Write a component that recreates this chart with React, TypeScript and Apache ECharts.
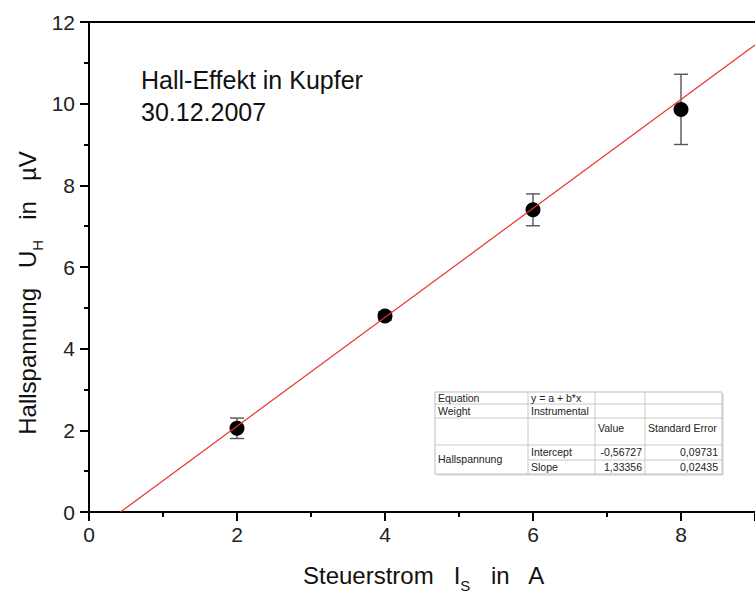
import React, { useEffect, useRef } from "react";
import * as echarts from "echarts";

// Measured data
const currentA = [2, 4, 6, 8];
const hallVoltage = [2.05, 4.8, 7.4, 9.86];
const hallError = [0.25, 0.1, 0.39, 0.86];

// Linear fit (from the fit table): y = a + b*x, drawn between these endpoints
const fitX = [0.4254, 9.0];
const fitY = [0.0, 11.4348];

// Axis ticks
const xTicks = [0, 2, 4, 6, 8];
const yTicks = [0, 2, 4, 6, 8, 10, 12];

// Title
const titleLines = ["Hall-Effekt in Kupfer", "30.12.2007"];

// Fit table contents
const tableRows = [
  ["Equation", "y = a + b*x", "", ""],
  ["Weight", "Instrumental", "", ""],
  ["", "", "Value", "Standard Error"],
  ["Hallspannung", "Intercept", "-0,56727", "0,09731"],
  ["", "Slope", "1,33356", "0,02435"],
];

const FONT = "Liberation Sans, Arial, Helvetica, sans-serif";

export default function App() {
  const ref = useRef<HTMLDivElement>(null);
  useEffect(() => {
    if (!ref.current) return;
    const chart = echarts.init(ref.current, null, { renderer: "svg" });

    const errData = currentA.map((x, i) => [x, hallVoltage[i] - hallError[i], hallVoltage[i] + hallError[i]]);
    const ptData = currentA.map((x, i) => [x, hallVoltage[i]]);
    const fitData = fitX.map((x, i) => [x, fitY[i]]);

    // Table geometry
    const tl = 435, tt = 392, tr = 722, tb = 474;
    const cols = [435, 528, 595, 645, 722];
    const rows = [392, 404, 418, 445, 460, 474];
    const lineStyle = { stroke: "#c8c8c8", lineWidth: 1 };
    const tableEls: any[] = [];
    tableEls.push({ type: "rect", shape: { x: tl + 2, y: tt + 2, width: tr - tl, height: tb - tt }, style: { fill: "#e4e4e4" } });
    tableEls.push({ type: "rect", shape: { x: tl, y: tt, width: tr - tl, height: tb - tt }, style: { fill: "#fff", stroke: "#bdbdbd", lineWidth: 1 } });
    [rows[1], rows[2], rows[3]].forEach((y) =>
      tableEls.push({ type: "line", shape: { x1: tl, y1: y, x2: tr, y2: y }, style: lineStyle })
    );
    tableEls.push({ type: "line", shape: { x1: cols[1], y1: rows[4], x2: tr, y2: rows[4] }, style: lineStyle });
    [cols[1], cols[2], cols[3]].forEach((x) =>
      tableEls.push({ type: "line", shape: { x1: x, y1: tt, x2: x, y2: tb }, style: lineStyle })
    );
    const tStyle = (text: string, x: number, y: number, align: string) => ({
      type: "text",
      x,
      y,
      style: { text, fontSize: 10.5, fontFamily: FONT, fill: "#222", align, verticalAlign: "middle" },
    });
    const rowY = [398, 411, 428, 452, 467];
    tableRows.forEach((r, ri) => {
      r.forEach((cell, ci) => {
        if (!cell) return;
        let y = rowY[ri];
        if (ri === 3 && ci === 0) y = 459;
        if (ci === 2 && ri >= 3) tableEls.push(tStyle(cell, cols[3] - 3, y, "right"));
        else if (ci === 3 && ri >= 3) tableEls.push(tStyle(cell, cols[4] - 4, y, "right"));
        else tableEls.push(tStyle(cell, cols[ci] + 3, y, "left"));
      });
    });

    const richStyles = {
      a: { fontSize: 24, fontFamily: FONT, fill: "#111", verticalAlign: "bottom", padding: [0, 0, 6, 0] },
      s: { fontSize: 15, fontFamily: FONT, fill: "#111", verticalAlign: "bottom" },
    };

    const option: any = {
      animation: false,
      backgroundColor: "#fff",
      textStyle: { fontFamily: FONT },
      grid: { left: 89, top: 22, width: 669, height: 490, show: false },
      xAxis: [
        {
          type: "value",
          min: 0,
          max: 9,
          interval: 2,
          axisLine: { lineStyle: { color: "#000", width: 2 } },
          axisTick: { show: true, length: 9, lineStyle: { color: "#000", width: 2 } },
          minorTick: { show: true, splitNumber: 2, length: 5, lineStyle: { color: "#000", width: 2 } },
          splitLine: { show: false },
          axisLabel: {
            fontSize: 21,
            color: "#222",
            margin: 12,
            showMaxLabel: false,
            formatter: (v: number) => (xTicks.includes(v) ? String(v) : ""),
          },
        },
        {
          type: "value",
          position: "top",
          min: 0,
          max: 9,
          axisLine: { show: true, onZero: false, lineStyle: { color: "#000", width: 2 } },
          axisTick: { show: false },
          axisLabel: { show: false },
          splitLine: { show: false },
        },
      ],
      yAxis: {
        type: "value",
        min: 0,
        max: 12,
        interval: 2,
        axisLine: { show: true, lineStyle: { color: "#000", width: 2 } },
        axisTick: { show: true, length: 9, lineStyle: { color: "#000", width: 2 } },
        minorTick: { show: true, splitNumber: 2, length: 5, lineStyle: { color: "#000", width: 2 } },
        splitLine: { show: false },
        axisLabel: {
          fontSize: 21,
          color: "#222",
          margin: 14,
          formatter: (v: number) => (yTicks.includes(v) ? String(v) : ""),
        },
      },
      series: [
        {
          type: "custom",
          name: "Fehler",
          data: errData,
          z: 2,
          renderItem: (params: any, api: any) => {
            const x = api.value(0);
            const lo = api.coord([x, api.value(1)]);
            const hi = api.coord([x, api.value(2)]);
            const w = 7;
            const st = { stroke: "#555", lineWidth: 1.4 };
            return {
              type: "group",
              children: [
                { type: "line", shape: { x1: lo[0], y1: lo[1], x2: hi[0], y2: hi[1] }, style: st },
                { type: "line", shape: { x1: lo[0] - w, y1: lo[1], x2: lo[0] + w, y2: lo[1] }, style: st },
                { type: "line", shape: { x1: hi[0] - w, y1: hi[1], x2: hi[0] + w, y2: hi[1] }, style: st },
              ],
            };
          },
        },
        {
          type: "scatter",
          name: "Hallspannung",
          data: ptData,
          symbol: "circle",
          symbolSize: 15,
          itemStyle: { color: "#000", opacity: 1 },
          z: 3,
        },
        {
          type: "line",
          name: "Fit",
          data: fitData,
          showSymbol: false,
          lineStyle: { color: "#e8342c", width: 1.2 },
          z: 4,
        },
      ],
      graphic: [
        {
          type: "text",
          left: 141,
          top: 64,
          style: { text: titleLines.join("\n"), fontSize: 25, lineHeight: 32, fontFamily: FONT, fill: "#111" },
        },
        {
          type: "text",
          x: 30,
          y: 293,
          rotation: Math.PI / 2,
          style: {
            text: "{a|Hallspannung   U}{s|H}{a|   in   µV}",
            align: "center",
            verticalAlign: "middle",
            fontFamily: FONT,
            fill: "#111",
            rich: richStyles,
          },
        },
        {
          type: "text",
          x: 424,
          y: 578,
          style: {
            text: "{a|Steuerstrom   I}{s|S}{a|   in   A}",
            align: "center",
            verticalAlign: "middle",
            fontFamily: FONT,
            fill: "#111",
            rich: richStyles,
          },
        },
        ...tableEls,
      ],
    };
    chart.setOption(option);
    return () => chart.dispose();
  }, []);
  return <div ref={ref} style={{ position: "absolute", left: 0, top: 0, width: 755, height: 594 }} />;
}
